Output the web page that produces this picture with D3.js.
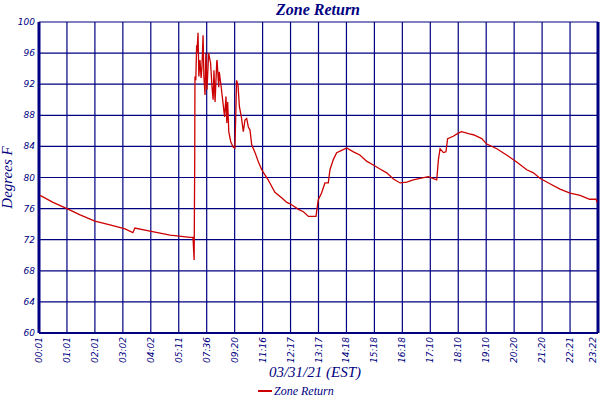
<!DOCTYPE html>
<html><head><meta charset="utf-8">
<script src="https://cdn.jsdelivr.net/npm/d3@7"></script>
<style>body{margin:0;background:#fff}text{font-family:"DejaVu Sans",sans-serif;font-style:italic;fill:#000080}</style>
</head><body><svg id="c" width="600" height="400"></svg>
<script>
var tickLabels = ['00:01','01:01','02:01','03:02','04:02','05:11','07:36','09:20','11:16','12:17','13:17','14:18','15:18','16:18','17:10','18:10','19:10','20:20','21:20','22:21','23:22'];
var yTicks = [60,64,68,72,76,80,84,88,92,96,100];
var sampleIdx = [0.04,0.5,1.0,1.47,2.0,2.54,3.08,3.36,3.43,3.97,4.69,5.4,5.51,5.55,5.57,5.58,5.61,5.64,5.65,5.69,5.72,5.76,5.8,5.83,5.87,5.9,5.94,5.97,6.01,6.07,6.14,6.19,6.23,6.26,6.3,6.36,6.37,6.43,6.45,6.51,6.57,6.64,6.69,6.72,6.75,6.79,6.86,6.95,7.01,7.04,7.07,7.12,7.17,7.24,7.31,7.37,7.43,7.49,7.55,7.61,7.73,7.85,7.97,8.09,8.2,8.26,8.44,8.68,8.87,9.04,9.28,9.46,9.64,9.91,9.99,10.11,10.23,10.35,10.41,10.53,10.65,10.83,11.01,11.25,11.48,11.72,11.96,12.2,12.44,12.68,12.92,13.16,13.39,13.63,13.93,14.23,14.29,14.35,14.47,14.56,14.62,14.82,15.0,15.12,15.4,15.54,15.84,16.02,16.38,16.73,17.09,17.45,17.69,17.92,18.28,18.64,19.0,19.36,19.7,19.93,19.97];
var zoneReturn = [77.7,76.8,76.0,75.2,74.4,73.9,73.4,72.9,73.5,73.1,72.6,72.3,72.3,69.4,81.2,93,92.5,97,96,98.6,93,95.1,92.8,94.2,98.3,93,90.6,96,91.3,96,94.7,91.6,90,93.8,89.7,94.9,95.1,91.6,93.6,91.9,90,87.8,90.4,87,89.7,85.9,84.6,83.9,83.8,88,92.5,91.9,89.1,87.8,85.9,87.4,87.6,86.5,86.1,84.2,83.2,82,81,80.3,79.7,79.3,78.1,77.4,76.8,76.5,75.9,75.6,75.0,75.0,77.1,78,79.3,79.3,81,82.3,83.2,83.5,83.8,83.3,82.9,82.1,81.6,81.1,80.6,79.8,79.3,79.4,79.7,79.9,80.1,79.7,82.3,83.7,83.2,83.3,85,85.3,85.7,85.9,85.6,85.5,85,84.3,83.7,82.9,82,81,80.6,79.9,79.2,78.5,78,77.7,77.2,77.2,76.8];

var svg = d3.select('#c');
var L = 39, R = 598, T = 22, B = 333;
var x = d3.scaleLinear().domain([0, 20]).range([L, R]);
var y = d3.scaleLinear().domain([60, 100]).range([B, T]);

var g = svg.append('g');
g.selectAll('.vg').data(tickLabels).enter().append('line')
    .attr('x1', function(d, i) { return x(i); }).attr('x2', function(d, i) { return x(i); })
    .attr('y1', T).attr('y2', B).attr('stroke', '#000080').attr('stroke-width', 1.2);
g.selectAll('.hg').data(yTicks).enter().append('line')
    .attr('x1', L).attr('x2', R).attr('y1', function(d) { return y(d); }).attr('y2', function(d) { return y(d); })
    .attr('stroke', '#000080').attr('stroke-width', 1.2);
g.append('line').attr('x1', L).attr('x2', L).attr('y1', T).attr('y2', B).attr('stroke', '#000080').attr('stroke-width', 3);
g.append('line').attr('x1', R).attr('x2', R).attr('y1', T).attr('y2', B).attr('stroke', '#000080').attr('stroke-width', 3);
g.append('line').attr('x1', L).attr('x2', R).attr('y1', B).attr('y2', B).attr('stroke', '#000080').attr('stroke-width', 2);

g.selectAll('.yl').data(yTicks).enter().append('text')
    .attr('x', L - 4).attr('y', function(d) { return y(d) + 3; })
    .attr('text-anchor', 'end').attr('font-size', 9).text(function(d) { return d; });
g.selectAll('.xl').data(tickLabels).enter().append('text')
    .attr('transform', function(d, i) { return 'translate(' + Math.min(x(i) + 3, 596) + ',' + (B + 4) + ') rotate(-90)'; })
    .attr('text-anchor', 'end').attr('font-size', 9).text(function(d) { return d; });

var line = d3.line().x(function(d, i) { return x(sampleIdx[i]); }).y(function(d) { return y(d); });
svg.append('path').datum(zoneReturn).attr('d', line)
    .attr('fill', 'none').attr('stroke', '#cc0000').attr('stroke-width', 1.3);

svg.append('text').attr('x', 318).attr('y', 15).attr('text-anchor', 'middle')
    .attr('font-size', 16).attr('font-weight', 'bold')
    .style('font-family', '"Liberation Serif",serif').text('Zone Return');
svg.append('text').attr('transform', 'translate(12,' + ((T + B) / 2) + ') rotate(-90)')
    .attr('text-anchor', 'middle').attr('font-size', 15)
    .style('font-family', '"Liberation Serif",serif').text('Degrees F');
svg.append('text').attr('x', 315).attr('y', 377).attr('text-anchor', 'middle')
    .attr('font-size', 15).style('font-family', '"Liberation Serif",serif').text('03/31/21 (EST)');
svg.append('line').attr('x1', 258).attr('x2', 272).attr('y1', 391).attr('y2', 391).attr('stroke', '#cc0000').attr('stroke-width', 2);
svg.append('text').attr('x', 274).attr('y', 395).attr('font-size', 12)
    .style('font-family', '"Liberation Serif",serif').text('Zone Return');
</script></body></html>
